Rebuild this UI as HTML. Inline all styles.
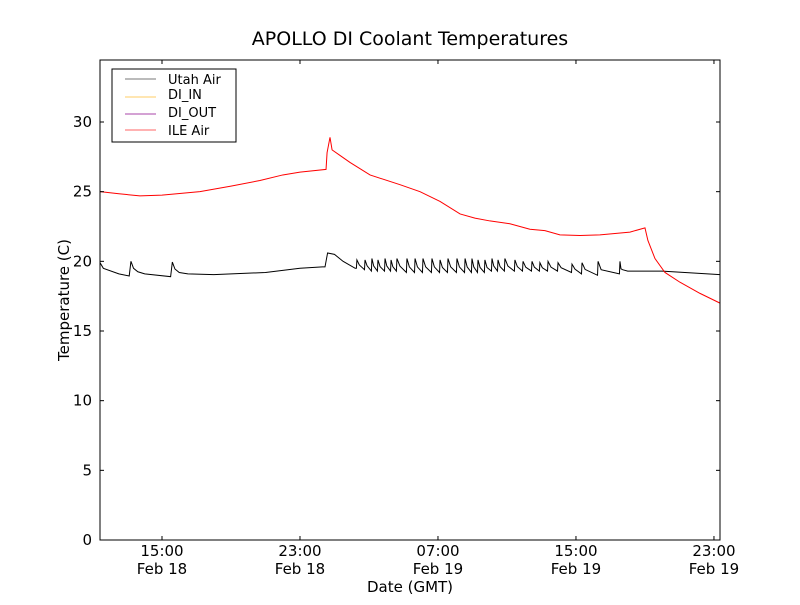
<!DOCTYPE html>
<html><head><meta charset="utf-8"><style>
body{margin:0;background:#fff;}
svg text{font-family:"DejaVu Sans","Liberation Sans",sans-serif;}
</style></head><body>
<svg id="chart" width="800" height="600" xmlns="http://www.w3.org/2000/svg">
<rect width="800" height="600" fill="#fff"/>
<text x="410" y="45" font-size="19" text-anchor="middle">APOLLO DI Coolant Temperatures</text>
<g id="plot"></g>
<rect x="100" y="60" width="620" height="480" fill="none" stroke="#000" stroke-width="1"/>
<g id="ticks"></g>
<text x="410" y="592" font-size="15" text-anchor="middle">Date (GMT)</text>
<text transform="translate(69,300) rotate(-90)" font-size="15" text-anchor="middle">Temperature (C)</text>
<g>
<rect x="112" y="69" width="124" height="73" fill="#fff" stroke="#000" stroke-width="1"/>
<line x1="125" y1="79" x2="156" y2="79" stroke="#777" stroke-width="1"/>
<text x="168" y="84" font-size="13">Utah Air</text>
<line x1="125" y1="97" x2="156" y2="97" stroke="#fc6" stroke-width="1"/>
<text x="168" y="99" font-size="13">DI_IN</text>
<line x1="125" y1="114" x2="156" y2="114" stroke="#a4a" stroke-width="1"/>
<text x="168" y="117" font-size="13">DI_OUT</text>
<line x1="125" y1="130" x2="156" y2="130" stroke="#f66" stroke-width="1"/>
<text x="168" y="135" font-size="13">ILE Air</text>
</g>
</svg>
<script>
// time in hours since Feb 18 00:00 GMT
const ileT=[11.41,12.5,13.72,15.0,17.2,19.0,20.68,22.0,23.0,24.51,24.57,24.74,24.86,25.32,25.9,27.06,28.8,29.96,31.12,32.28,33.14,34.01,35.17,36.33,37.2,38.07,39.23,40.39,42.13,43.0,43.17,43.58,44.16,45.03,46.19,47.35];
const ileV=[25.0,24.85,24.7,24.75,25.0,25.4,25.8,26.2,26.4,26.6,27.8,28.9,28.0,27.6,27.1,26.2,25.5,25.0,24.3,23.4,23.1,22.9,22.7,22.3,22.2,21.9,21.85,21.9,22.1,22.4,21.5,20.2,19.2,18.5,17.7,17.0];
const utahT=[11.41,11.6,12.5,13.1,13.2,13.35,13.6,14.0,15.5,15.6,15.75,16.0,16.5,18.0,21.0,23.0,24.3,24.45,24.6,25.0,25.5,26.2];
const utahV=[19.9,19.5,19.1,18.95,20.0,19.5,19.25,19.1,18.9,19.95,19.45,19.2,19.1,19.05,19.2,19.5,19.6,19.6,20.6,20.5,20.0,19.5];
const spikeT=[26.30,26.77,27.17,27.52,27.93,28.28,28.62,29.20,29.67,30.13,30.65,31.12,31.58,32.10,32.57,32.97,33.32,33.72,34.13,34.48,34.88,35.46,35.93,36.45,36.91,37.38,37.96,38.77,39.35,40.28,41.55];
const spikePeak=[20.1,20.1,20.2,20.1,20.2,20.1,20.2,20.2,20.2,20.2,20.2,20.1,20.2,20.2,20.2,20.2,20.1,20.1,20.2,20.1,20.2,20.1,20.0,20.0,19.9,20.0,19.9,19.8,19.9,20.0,20.0];
const spikeTrough=[19.5,19.4,19.3,19.3,19.3,19.3,19.3,19.2,19.2,19.2,19.2,19.2,19.2,19.2,19.2,19.2,19.2,19.2,19.3,19.3,19.3,19.3,19.3,19.3,19.3,19.3,19.3,19.2,19.1,19.0,19.1];
const tailT=[41.7,42.0,44.0,47.35];
const tailV=[19.4,19.3,19.3,19.05];
const yTicks=[0,5,10,15,20,25,30];
const xTicks=[15,23,31,39,47];
const xTickTime=["15:00","23:00","07:00","15:00","23:00"];
const xTickDate=["Feb 18","Feb 18","Feb 19","Feb 19","Feb 19"];

const X0=100,X1=720,Y0=540,Y1=60;
const tMin=11.406,tMax=47.35,vMin=0,vMax=34.45;
const sx=t=>X0+(t-tMin)/(tMax-tMin)*(X1-X0);
const sy=v=>Y0-(v-vMin)/(vMax-vMin)*(Y0-Y1);
const NS="http://www.w3.org/2000/svg";
const plot=document.getElementById('plot');
function path(ts,vs,color,name){
  const p=document.createElementNS(NS,'path');
  p.setAttribute('d',ts.map((t,i)=>(i?'L':'M')+sx(t).toFixed(2)+','+sy(vs[i]).toFixed(2)).join(''));
  p.setAttribute('fill','none');p.setAttribute('stroke',color);p.setAttribute('stroke-width','1');
  
  
  plot.appendChild(p);
}
let uT=utahT.slice(),uV=utahV.slice();
spikeT.forEach((t,i)=>{
  uT.push(t-0.03);uV.push(spikeTrough[i]);
  uT.push(t);uV.push(spikePeak[i]);
  const nxt=i+1<spikeT.length?spikeT[i+1]:t+0.2;
  const gap=Math.min(nxt-t,0.6);
  uT.push(t+gap*0.3);uV.push(spikeTrough[i]+(spikePeak[i]-spikeTrough[i])*0.4);
});
tailT.forEach((t,i)=>{uT.push(t);uV.push(tailV[i]);});
path(uT,uV,'#000','utah-air-line');
path(ileT,ileV,'#f00','ile-air-line');

const tk=document.getElementById('ticks');
function el(tag,attrs,txt){const e=document.createElementNS(NS,tag);for(const k in attrs)e.setAttribute(k,attrs[k]);if(txt)e.textContent=txt;tk.appendChild(e);return e;}
yTicks.forEach(v=>{
  const y=sy(v);
  const a=el('line',{x1:X0,y1:y,x2:X0+4,y2:y,stroke:'#000'});
  
  
  const b=el('line',{x1:X1-4,y1:y,x2:X1,y2:y,stroke:'#000'});
  
  
  const t=el('text',{x:X0-8,y:y+5,'font-size':15,'text-anchor':'end'},String(v));
  
  
});
xTicks.forEach((h,i)=>{
  const x=sx(h);
  const a=el('line',{x1:x,y1:Y0,x2:x,y2:Y0-4,stroke:'#000'});
  
  
  const b=el('line',{x1:x,y1:Y1,x2:x,y2:Y1+4,stroke:'#000'});
  
  
  const t1=el('text',{x:x,y:556,'font-size':15,'text-anchor':'middle'},xTickTime[i]);
  
  
  const t2=el('text',{x:x,y:574,'font-size':15,'text-anchor':'middle'},xTickDate[i]);
  
  
});
</script>
</body></html>
